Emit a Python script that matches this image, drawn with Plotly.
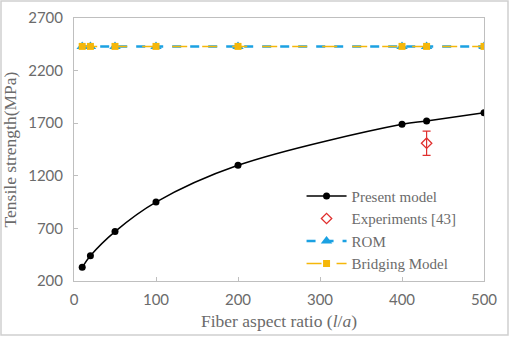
import plotly.graph_objects as go

# Data
aspect_ratio = [10, 20, 50, 100, 200, 400, 430, 500]
present_model = [330, 440, 670, 950, 1300, 1690, 1722, 1800]
exp_x = [430]
exp_y = [1510]
exp_err = [115]
rom = [2430, 2430, 2430, 2430, 2430, 2430, 2430, 2430]
bridging = [2430, 2430, 2430, 2430, 2430, 2430, 2430, 2430]

W, H = 510, 337
L, R, T, B = 74, 26, 18, 56
pw, ph = W - L - R, H - T - B

fig = go.Figure()
fig.add_trace(go.Scatter(
    x=aspect_ratio, y=present_model, name="Present model",
    mode="lines+markers", line=dict(color="black", width=1.5, shape="spline"),
    marker=dict(symbol="circle", size=7, color="black")))
fig.add_trace(go.Scatter(
    x=exp_x, y=exp_y, name="Experiments [43]", mode="markers",
    marker=dict(symbol="diamond-open", size=8, color="#e0302f", line=dict(width=1.3)),
    error_y=dict(type="data", array=exp_err, color="#e0302f", thickness=1.2, width=4)))
fig.add_trace(go.Scatter(
    x=aspect_ratio, y=rom, name="ROM", mode="lines+markers",
    line=dict(color="#1ba1e2", width=2.5, dash="dash"),
    marker=dict(symbol="triangle-up", size=10, color="#1ba1e2")))
fig.add_trace(go.Scatter(
    x=aspect_ratio, y=bridging, name="Bridging Model", mode="lines+markers",
    line=dict(color="#f5b70a", width=1.5, dash="longdash"),
    marker=dict(symbol="square", size=7, color="#f5b70a")))

tickfont = dict(family="Lato, Open Sans, sans-serif", size=15, color="#6b6b6b")
titlefont = dict(family="Liberation Serif, serif", size=17.5, color="#6b6b6b")
axcol = "#bfbfbf"
fig.update_layout(
    width=W, height=H, margin=dict(l=L, r=R, t=T, b=B, autoexpand=False),
    paper_bgcolor="white", plot_bgcolor="white",
    showlegend=True,
    legend=dict(x=0.555, y=0.385, xanchor="left", yanchor="top",
                font=dict(family="Liberation Serif, serif", size=15, color="#6b6b6b"),
                bgcolor="rgba(0,0,0,0)", tracegroupgap=0, itemwidth=40),
    xaxis=dict(range=[0, 500], tickvals=[0, 100, 200, 300, 400, 500],
               showgrid=False, zeroline=False, showline=True, linecolor=axcol,
               mirror=True, ticks="inside", ticklen=4, tickcolor=axcol,
               tickfont=tickfont, automargin=False, ticklabelstandoff=5,
               title=dict(text="Fiber aspect ratio (<i>l</i>/<i>a</i>)",
                          font=titlefont, standoff=7)),
    yaxis=dict(range=[200, 2700], tickvals=[200, 700, 1200, 1700, 2200, 2700],
               showgrid=False, zeroline=False, showline=True, linecolor=axcol,
               mirror=True, ticks="inside", ticklen=4, tickcolor=axcol,
               tickfont=tickfont, automargin=False, ticklabelstandoff=7,
               title=dict(text="Tensile strength(MPa)",
                          font=titlefont, standoff=8)),
)
# outer figure border
fig.add_shape(type="rect", xref="paper", yref="paper",
              x0=(1 - L) / pw, x1=(W - 2 - L) / pw,
              y0=-(H - 2 - T - ph) / ph, y1=(T - 1) / ph + 1,
              line=dict(color="#d0d0d0", width=1.5), layer="below")

fig.write_html("out.html", config={"displayModeBar": False},
               post_script="document.body.style.margin='0';document.body.style.overflow='hidden';")
